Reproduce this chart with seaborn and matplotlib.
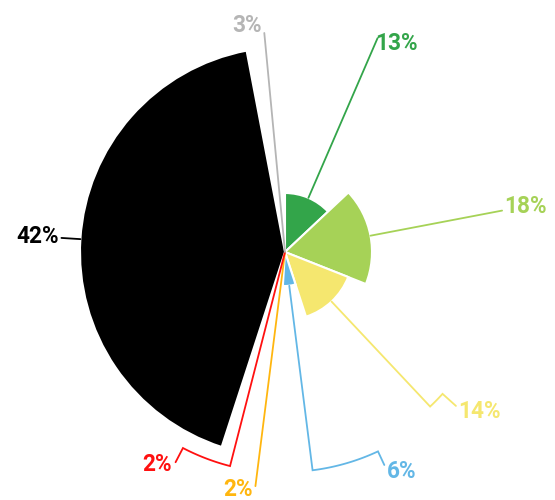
import numpy as np
import matplotlib
matplotlib.use("Agg")
import matplotlib.pyplot as plt
import seaborn as sns

# slice shares (angle) and slice radius values
shares = [13, 18, 14, 6, 2, 2, 42, 3]
radius_values = [59, 87, 68, 34, 0, 0, 205, 0]
labels = ["13%", "18%", "14%", "6%", "2%", "2%", "42%", "3%"]
colors = ["#33a54a", "#a6d257", "#f5e76f", "#63b7e6", "#ffb60f", "#ff1010", "#000000", "#b5b5b5"]

# label layout (degrees clockwise from top, radius), tuned by eye
label_theta = [24.0, 79.95, 133.65, 155.7, 187.4, 207.3, 272.3, 354.0]
label_r = [221, 223, 240, 248, 246, 246, 226, 221]
label_ha = ["left", "left", "left", "left", "right", "right", "right", "right"]
line_r = [233, 221, 212, 220, 236, 221, 224, 220]
bend_theta = [None, None, 132, 155, None, 207.5, None, None]
end_r = [None, None, 230, 235, None, 237, None, None]

sns.set_theme(style="white")
plt.rcParams["font.family"] = ["Roboto", "DejaVu Sans"]

fig = plt.figure(figsize=(5.55, 5.0), dpi=100)
ax = fig.add_axes([35 / 555, -2 / 500, 500 / 555, 1.0], projection="polar")
ax.set_theta_zero_location("N")
ax.set_theta_direction(-1)

widths = np.array(shares) / sum(shares) * 360
starts = np.concatenate([[0], np.cumsum(widths)[:-1]])
mids = starts + widths / 2

ax.bar(np.deg2rad(mids), radius_values, width=np.deg2rad(widths), bottom=0,
       color=colors, edgecolor="white", linewidth=1.5, align="center")

# connector lines + labels
for i in range(len(shares)):
    th = [mids[i], mids[i]]
    rr = [radius_values[i], line_r[i]]
    if bend_theta[i] is not None:
        arc = np.linspace(mids[i], bend_theta[i], 30)
        th += list(arc) + [bend_theta[i]]
        rr += [line_r[i]] * len(arc) + [end_r[i]]
    ax.plot(np.deg2rad(th), rr, color=colors[i], lw=1.3, solid_joinstyle="miter")
    ax.text(np.deg2rad(label_theta[i]), label_r[i], labels[i], ha=label_ha[i],
            va="baseline", color=colors[i], fontsize=16.3, fontweight="bold")

ax.set_ylim(0, 250)
ax.axis("off")

plt.savefig("out.png", dpi=100)
